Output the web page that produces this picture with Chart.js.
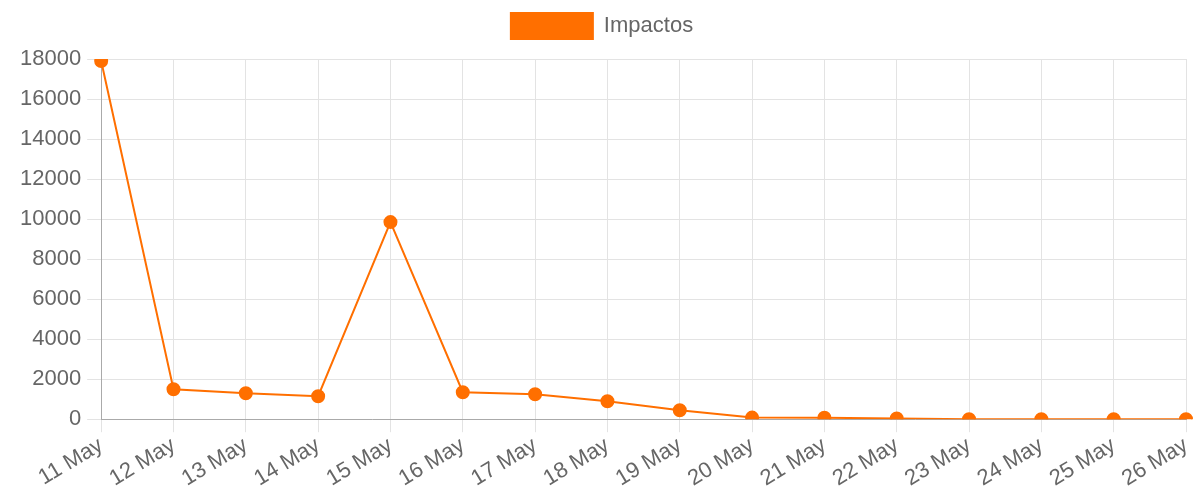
<!DOCTYPE html>
<html>
<head>
<meta charset="utf-8">
<script src="https://cdn.jsdelivr.net/npm/chart.js@4.4.0/dist/chart.umd.min.js"></script>
<style>
  html, body { margin: 0; padding: 0; background: #fff; }
  #wrap { width: 1194px; height: 492px; }
</style>
</head>
<body>
<div id="wrap"><canvas id="chart"></canvas></div>
<script>
const labels = [
  '11 May', '12 May', '13 May', '14 May', '15 May', '16 May', '17 May', '18 May',
  '19 May', '20 May', '21 May', '22 May', '23 May', '24 May', '25 May', '26 May'
];
const impactos = [17900, 1500, 1300, 1150, 9850, 1350, 1250, 900, 450, 80, 70, 40, 0, 0, 0, 0];

const orange = '#ff6f00';
const fontFamily = 'Liberation Sans';

// push the chart area down a bit below the legend
const legendGap = {
  id: 'legendGap',
  beforeInit(chart) {
    const fit = chart.legend.fit;
    chart.legend.fit = function () {
      fit.bind(chart.legend)();
      this.height += 10;
    };
  }
};

const config = {
  type: 'line',
  data: {
    labels: labels,
    datasets: [
      {
        label: 'Impactos',
        data: impactos,
        borderColor: orange,
        backgroundColor: orange,
        borderWidth: 2,
        pointRadius: 6,
        pointHoverRadius: 6,
        pointBackgroundColor: orange,
        pointBorderColor: orange,
        tension: 0,
        fill: false
      }
    ]
  },
  options: {
    responsive: true,
    maintainAspectRatio: false,
    animation: false,
    layout: { padding: { left: 14, right: 4, top: 0, bottom: 0 } },
    plugins: {
      legend: {
        position: 'top',
        labels: {
          boxWidth: 82,
          boxHeight: 26,
          color: '#666',
          font: { family: fontFamily, size: 22 },
          padding: 13
        }
      },
      tooltip: { enabled: false }
    },
    scales: {
      x: {
        afterFit(scale) {
          scale.paddingRight = 0;
        },
        grid: { color: '#e3e3e3', tickLength: 13 },
        border: { color: '#aaa' },
        ticks: {
          color: '#666',
          font: { family: fontFamily, size: 22 },
          maxRotation: 31,
          minRotation: 31,
          padding: 0
        }
      },
      y: {
        min: 0,
        max: 18000,
        grid: { color: '#e3e3e3', tickLength: 14 },
        border: { color: '#aaa' },
        ticks: {
          stepSize: 2000,
          color: '#666',
          font: { family: fontFamily, size: 22 },
          padding: 6,
          callback: value => String(value)
        }
      }
    }
  },
  plugins: [legendGap]
};

new Chart(document.getElementById('chart'), config);
</script>
</body>
</html>
